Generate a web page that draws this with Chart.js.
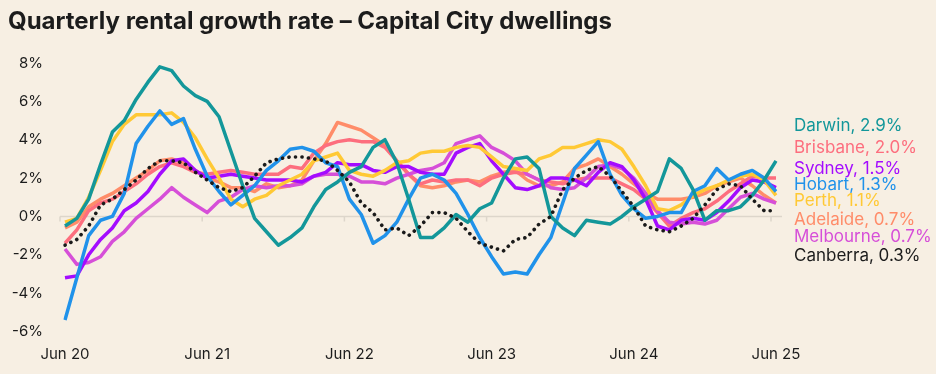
<!DOCTYPE html>
<html>
<head>
<meta charset="utf-8">
<script src="https://cdn.jsdelivr.net/npm/chart.js@4.4.0/dist/chart.umd.min.js"></script>
<style>
  html, body { margin: 0; padding: 0; background: #f7efe3; }
  #wrap { width: 936px; height: 374px; }
</style>
</head>
<body>
<div id="wrap"><canvas id="myChart" width="936" height="374"></canvas></div>
<script>
// Monthly categories, Jun 2020 to Jun 2025
const monthNames = ['Jun', 'Jul', 'Aug', 'Sep', 'Oct', 'Nov', 'Dec', 'Jan', 'Feb', 'Mar', 'Apr', 'May'];
const months = [];
for (let i = 0; i <= 60; i++) {
  const yr = 20 + Math.floor((i + 5) / 12);
  months.push(monthNames[i % 12] + ' ' + yr);
}

// Quarterly growth rate, %
const darwin = [-0.5, -0.1, 0.9, 2.7, 4.4, 5.0, 6.1, 7.0, 7.8, 7.6, 6.8, 6.3, 6.0, 5.2, 3.4, 1.6, -0.1, -0.8, -1.5, -1.1, -0.6, 0.5, 1.4, 1.8, 2.3, 2.6, 3.6, 4.0, 2.8, 0.9, -1.1, -1.1, -0.6, 0.1, -0.3, 0.4, 0.7, 2.0, 3.0, 3.1, 2.5, 0.0, -0.6, -1.0, -0.2, -0.3, -0.4, 0.0, 0.5, 0.9, 1.3, 3.0, 2.5, 1.4, -0.2, 0.3, 0.3, 0.5, 1.1, 1.9, 2.9];
const brisbane = [-1.4, -0.7, 0.3, 0.7, 0.9, 1.3, 1.7, 2.2, 2.6, 2.8, 2.6, 2.3, 2.2, 2.3, 2.4, 2.3, 2.2, 2.2, 2.2, 2.6, 2.5, 3.3, 3.7, 3.9, 4.0, 3.9, 3.9, 3.6, 2.9, 2.2, 1.7, 1.9, 1.8, 1.9, 1.9, 1.6, 2.0, 2.2, 2.3, 2.2, 1.9, 1.8, 1.7, 1.9, 2.0, 2.0, 2.0, 1.7, 1.4, 0.9, 0.2, -0.5, -0.1, 0.2, 0.4, 0.8, 1.3, 1.7, 2.1, 2.0, 2.0];
const sydney = [-3.2, -3.1, -2.0, -1.2, -0.6, 0.3, 0.7, 1.3, 2.2, 2.9, 3.0, 2.4, 2.0, 2.1, 2.2, 2.1, 2.0, 1.9, 1.9, 1.9, 1.8, 2.1, 2.3, 2.8, 2.7, 2.7, 2.4, 2.3, 2.6, 2.6, 2.3, 2.2, 2.2, 3.3, 3.6, 3.8, 2.9, 2.2, 1.5, 1.4, 1.6, 2.0, 2.0, 1.9, 1.6, 2.3, 2.8, 2.6, 1.9, 0.9, -0.5, -0.7, -0.2, -0.1, -0.2, 0.2, 0.8, 1.5, 1.9, 1.8, 1.5];
const hobart = [-5.4, -3.2, -1.0, -0.2, 0.0, 1.2, 3.8, 4.7, 5.5, 4.8, 5.1, 3.5, 2.1, 1.3, 0.6, 1.1, 1.6, 2.4, 2.9, 3.5, 3.6, 3.4, 2.8, 2.6, 0.9, 0.1, -1.4, -1.0, -0.3, 0.9, 2.0, 2.2, 1.9, 1.2, 0.1, -1.1, -2.1, -3.0, -2.9, -3.0, -2.0, -1.1, 0.7, 2.5, 3.2, 3.9, 2.2, 1.1, 0.4, -0.1, 0.0, 0.2, 0.2, 1.3, 1.6, 2.5, 1.9, 2.2, 2.4, 2.0, 1.3];
const perth = [-0.3, -0.1, 1.0, 2.4, 3.9, 4.8, 5.3, 5.3, 5.3, 5.4, 4.9, 4.1, 3.0, 2.0, 0.9, 0.5, 0.9, 1.1, 1.6, 1.9, 2.2, 2.9, 3.1, 3.3, 2.4, 2.2, 2.1, 2.4, 2.8, 2.9, 3.3, 3.4, 3.4, 3.6, 3.7, 3.6, 3.1, 2.6, 2.5, 2.4, 3.0, 3.2, 3.6, 3.6, 3.8, 4.0, 3.9, 3.5, 2.6, 1.6, 0.4, 0.3, 0.6, 1.1, 1.4, 1.6, 1.9, 2.1, 2.2, 1.9, 1.1];
const adelaide = [-0.6, -0.3, 0.5, 0.9, 1.2, 1.6, 2.0, 2.4, 2.9, 3.0, 2.8, 2.4, 2.0, 1.8, 1.5, 1.5, 1.3, 1.7, 1.5, 1.6, 1.9, 2.9, 3.8, 4.9, 4.7, 4.5, 4.1, 3.7, 2.9, 2.2, 1.6, 1.5, 1.6, 1.8, 1.9, 1.8, 2.1, 2.3, 2.4, 1.9, 1.6, 1.6, 1.8, 2.5, 2.7, 3.0, 2.6, 2.2, 1.7, 1.2, 0.9, 0.9, 0.9, 1.0, 1.2, 1.6, 1.8, 2.0, 1.6, 1.1, 0.7];
const melbourne = [-1.7, -2.5, -2.4, -2.1, -1.3, -0.8, -0.1, 0.4, 0.9, 1.5, 1.0, 0.6, 0.2, 0.8, 1.0, 1.4, 1.6, 1.5, 1.6, 1.6, 1.7, 2.1, 2.2, 2.2, 2.1, 1.8, 1.8, 1.7, 2.0, 2.2, 2.4, 2.5, 2.8, 3.8, 4.0, 4.2, 3.6, 3.3, 2.9, 2.2, 1.9, 1.5, 1.4, 1.5, 2.0, 2.6, 2.7, 2.5, 2.0, 1.2, 0.3, -0.3, -0.4, -0.3, -0.4, -0.2, 0.4, 1.0, 1.2, 0.9, 0.7];
const canberra = [-1.5, -1.2, -0.5, 0.6, 0.9, 1.4, 1.9, 2.5, 2.9, 2.9, 2.8, 2.3, 1.9, 1.5, 1.3, 1.5, 2.1, 2.8, 3.0, 3.1, 3.1, 3.0, 2.9, 2.4, 1.8, 0.7, 0.2, -0.7, -0.6, -1.0, -0.5, 0.2, 0.2, -0.1, -0.8, -1.4, -1.6, -1.8, -1.2, -1.1, -0.4, 0.0, 1.4, 2.0, 2.4, 2.6, 2.1, 1.3, 0.5, -0.5, -0.7, -0.8, -0.5, -0.1, 0.6, 1.4, 1.7, 1.6, 0.9, 0.3, 0.3];

const yTicks = [-6, -4, -2, 0, 2, 4, 6, 8];
const xTickEvery = 12;

const FONT = 'Inter, "Noto Sans", sans-serif';
const INK = '#1c1c1c';

function line(label, data, color, dotted) {
  return {
    label: label,
    data: data,
    borderColor: color,
    backgroundColor: color,
    borderWidth: dotted ? 3.6 : 3.5,
    borderDash: dotted ? [0.1, 6.4] : [],
    borderCapStyle: dotted ? 'round' : 'butt',
    borderJoinStyle: 'round',
    pointRadius: 0,
    tension: 0,
    fill: false
  };
}

// first dataset is drawn on top
const datasets = [
  line('Canberra', canberra, '#1a1a1a', true),
  line('Darwin', darwin, '#13979a'),
  line('Hobart', hobart, '#2092ea'),
  line('Perth', perth, '#ffc935'),
  line('Sydney', sydney, '#a40cff'),
  line('Melbourne', melbourne, '#d64fd8'),
  line('Brisbane', brisbane, '#fd6e7e'),
  line('Adelaide', adelaide, '#ff8c69')
];

// end labels, top to bottom (y is label centre in px)
const endLabels = [
  ['Darwin', 126], ['Brisbane', 147.5], ['Sydney', 169], ['Hobart', 184.5],
  ['Perth', 201], ['Adelaide', 219.5], ['Melbourne', 237], ['Canberra', 255.5]
];

const zeroLine = {
  id: 'zeroLine',
  beforeDatasetsDraw(chart) {
    const { ctx, chartArea, scales } = chart;
    const y0 = scales.y.getPixelForValue(0);
    ctx.save();
    ctx.strokeStyle = '#ddd6cb';
    ctx.lineWidth = 1.5;
    ctx.beginPath();
    ctx.moveTo(chartArea.left - 5, y0);
    ctx.lineTo(chartArea.right + 6, y0);
    for (let i = 0; i < months.length; i += xTickEvery) {
      const x = scales.x.getPixelForValue(i) - 5;
      ctx.moveTo(x, y0);
      ctx.lineTo(x, y0 + 5);
    }
    ctx.stroke();
    ctx.restore();
  }
};

const labelPlugin = {
  id: 'endLabels',
  afterDatasetsDraw(chart) {
    const { ctx, chartArea } = chart;
    ctx.save();
    ctx.font = '17px ' + FONT;
    ctx.textBaseline = 'middle';
    ctx.textAlign = 'left';
    endLabels.forEach(([name, y]) => {
      const ds = chart.data.datasets.find(d => d.label === name);
      const last = ds.data[ds.data.length - 1];
      ctx.fillStyle = name === 'Canberra' ? INK : ds.borderColor;
      ctx.fillText(name + ', ' + last.toFixed(1) + '%', chartArea.right + 18, y);
    });
    ctx.restore();
  }
};

const canvas = document.getElementById('myChart');
const chart = new Chart(canvas, {
  type: 'line',
  data: { labels: months, datasets: datasets },
  options: {
    responsive: false,
    animation: false,
    layout: { padding: { left: 8, right: 160, top: 0, bottom: 0 } },
    plugins: {
      legend: { display: false },
      tooltip: { enabled: false },
      title: {
        display: true,
        text: 'Quarterly rental growth rate \u2013 Capital City dwellings',
        align: 'start',
        color: INK,
        font: { family: FONT, size: 24, weight: 'bold' },
        padding: { top: 7, bottom: 27.2 }
      }
    },
    scales: {
      x: {
        type: 'category',
        offset: false,
        grid: { display: false, drawTicks: false },
        border: { display: false },
        ticks: {
          autoSkip: false,
          maxRotation: 0,
          padding: 14,
          color: INK,
          font: { family: FONT, size: 15 },
          callback: (v, i) => (i % xTickEvery === 0 ? months[i] : '')
        },
        afterFit: s => { s.height = 42.5; }
      },
      y: {
        min: yTicks[0],
        max: yTicks[yTicks.length - 1],
        grid: { display: false, drawTicks: false },
        border: { display: false },
        afterBuildTicks: s => { s.ticks = yTicks.map(v => ({ value: v })); },
        ticks: {
          padding: 22,
          color: INK,
          font: { family: FONT, size: 15 },
          callback: v => v + '%'
        },
        afterFit: s => { s.width = 57; }
      }
    }
  },
  plugins: [zeroLine, labelPlugin]
});
</script>
</body>
</html>
